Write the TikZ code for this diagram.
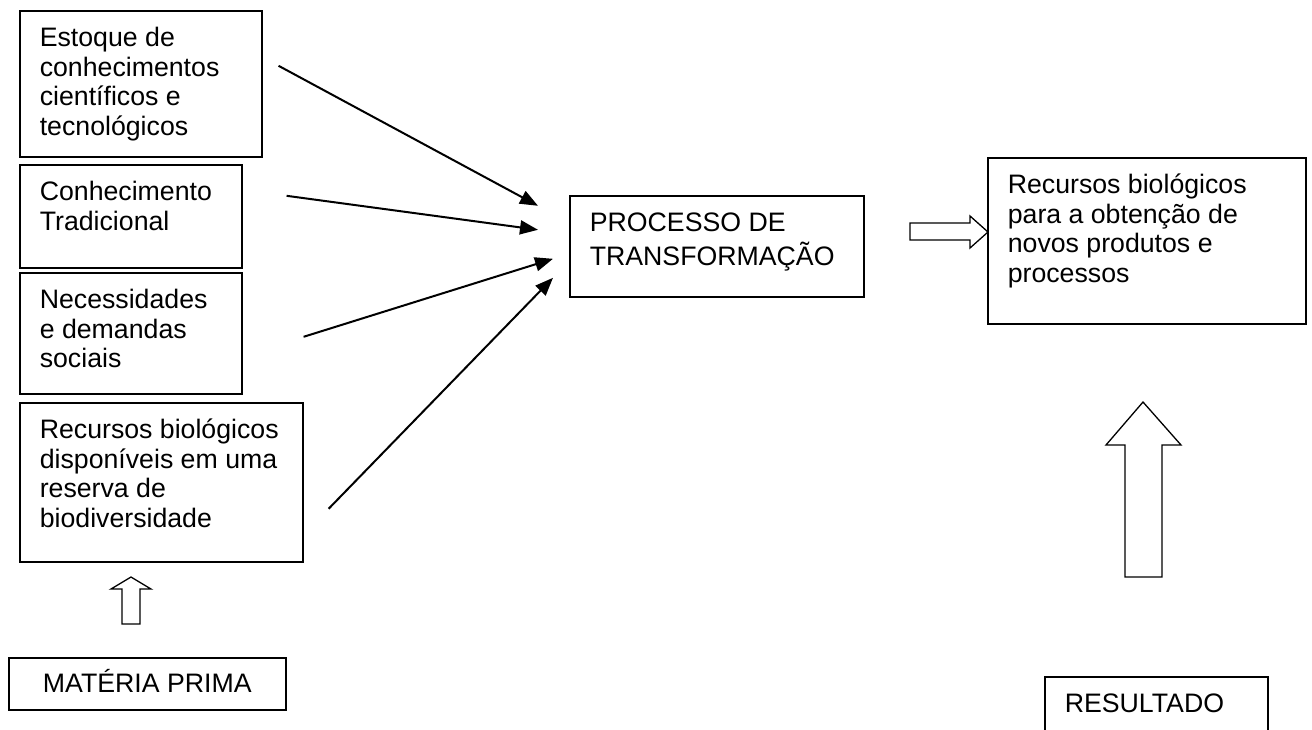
\documentclass[tikz,border=0pt]{standalone}
\usepackage{fontspec}
\setmainfont{Liberation Sans}
\usetikzlibrary{arrows.meta,calc}

% top-aligned text block of fixed width and height
\newcommand\boxtext[3]{\parbox[t][#2][t]{#1}{\raggedright\strut #3}}

\begin{document}
\begin{tikzpicture}[x=1pt,y=-1pt,
  box/.style={draw, line width=1.6pt, anchor=north west,
    inner xsep=20pt, inner ysep=15.3pt,
    font=\fontsize{26.7}{29.5}\selectfont},
  label box/.style={box, inner xsep=0pt, inner ysep=14.35pt,
    text height=20.65pt, text depth=2.65pt},
  flow/.style={line width=2pt, -{Triangle[length=18pt,width=14pt]}},
  hollow/.style={draw, line width=1.3pt, fill=white, line join=miter}]

\fill[white] (0,0) rectangle (1312,729);
\useasboundingbox (0,0) rectangle (1312,729);

% inputs
\node[box] (est) at (19,10)
  {\boxtext{202pt}{115.4pt}{Estoque de\\conhecimentos\\científicos e\\tecnológicos}};
\node[box] (trad) at (19,164)
  {\boxtext{182pt}{72.4pt}{Conhecimento\\Tradicional}};
\node[box] (nec) at (19,272)
  {\boxtext{182pt}{90.4pt}{Necessidades\\e demandas\\sociais}};
\node[box] (rec) at (19,402)
  {\boxtext{243pt}{128.4pt}{Recursos biológicos\\disponíveis em uma\\reserva de\\biodiversidade}};

% process and outcome
\node[box] (proc) at (569,195)
  {\boxtext{254pt}{70.4pt}{PROCESSO DE\\TRANSFORMAÇÃO}};
\node[box] (res) at (987,157)
  {\boxtext{278pt}{135.4pt}{Recursos biológicos\\para a obtenção de\\novos produtos e\\processos}};

% captions
\node[label box, minimum width=277pt] (mat) at (8,657) {MATÉRIA PRIMA};
\node[box] (resul) at (1044,676)
  {\boxtext{183pt}{90pt}{RESULTADO}};

% converging arrows
\draw[flow] ($(est.east)+(16,-18)$)  -- ($(proc.west)+(-31,-40.5)$);
\draw[flow] ($(trad.east)+(44,-20.5)$) -- ($(proc.west)+(-31,-16.5)$);
\draw[flow] ($(nec.east)+(61,3.5)$)  -- ($(proc.west)+(-16,12.5)$);
\draw[flow] ($(rec.east)+(25,26.5)$) -- ($(proc.west)+(-16,31.5)$);

% block arrows
\draw[hollow] (910,223) -- (970,223) -- (970,216) -- (988,232)
  -- (970,248) -- (970,240) -- (910,240) -- cycle;
\draw[hollow] (122,624) -- (122,589) -- (111,589) -- (131,577)
  -- (151,589) -- (140,589) -- (140,624) -- cycle;
\draw[hollow] (1125,577) -- (1125,445) -- (1106,445) -- (1143,402)
  -- (1181,445) -- (1162,445) -- (1162,577) -- cycle;
\end{tikzpicture}
\end{document}
